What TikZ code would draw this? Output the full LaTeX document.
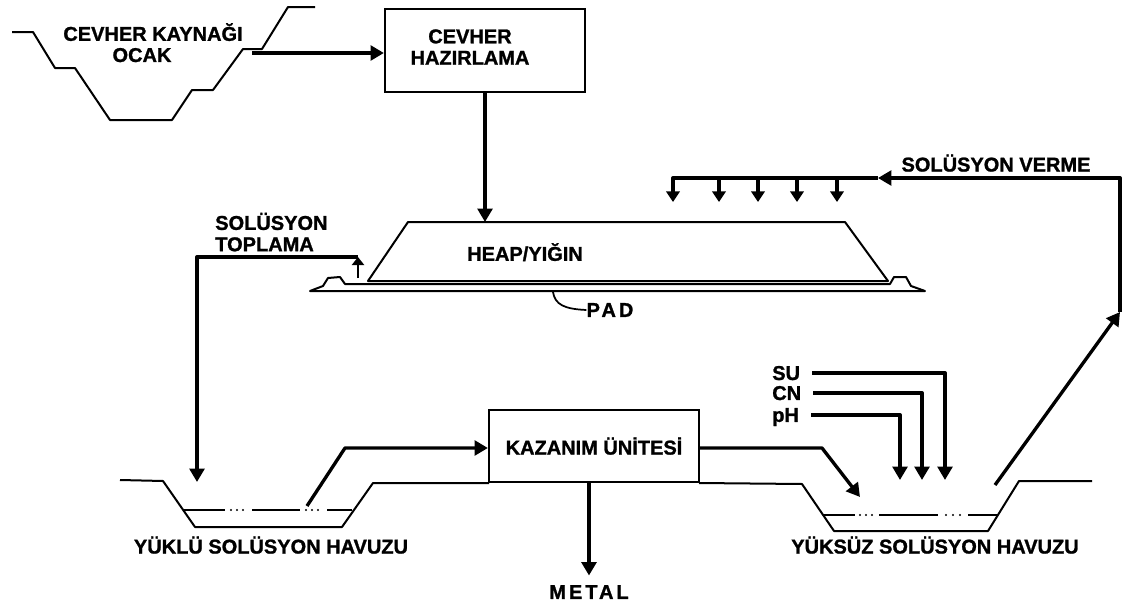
\documentclass[tikz,border=0pt]{standalone}
\usepackage{fontspec}
\setmainfont{Liberation Sans}[BoldFeatures={FakeBold=1.2}]
\newfontfamily\spacedfont{Liberation Sans}[LetterSpace=15,BoldFeatures={FakeBold=1.2}]
\usetikzlibrary{arrows.meta}
\begin{document}
\begin{tikzpicture}[x=0.75pt,y=-0.75pt,
  conn/.style={line width=2.5pt, line join=round},
  arr/.style={conn,-{Triangle[length=10pt,width=11pt]}},
  sarr/.style={conn,-{Triangle[length=8pt,width=10pt]}},
  uarr/.style={line width=2pt,-{Triangle[length=6pt,width=9pt]}},
  outl/.style={line width=1.5pt, line join=round},
  liq/.style={line width=1.3pt},
  lbl/.style={font=\bfseries\fontsize{15}{16}\selectfont, inner sep=0pt, text depth=0pt},
  slbl/.style={font=\spacedfont\bfseries\fontsize{15}{16}\selectfont, inner sep=0pt, text depth=0pt},
  box/.style={draw, line width=1.6pt, inner sep=0pt}
]
\useasboundingbox (0,0) rectangle (1125,603);
\fill[white] (0,0) rectangle (1125,603);

% --- ore source pit
\draw[outl] (12,32) -- (33,32) -- (55,68) -- (75,68) -- (110,120) -- (172,120) -- (192,90) -- (213,90) -- (243,49) -- (262,49) -- (288,7) -- (315,7);
\node[lbl] (ocak1) at (153,32) {CEVHER KAYNAĞI};
\node[lbl] (ocak2) at (142,55) {OCAK};
\coordinate (pitout) at (252,53);

% --- ore preparation
\node[box, minimum width=150pt, minimum height=62pt] (haz) at (485,50.5) {};
\node[lbl, align=center] (hazl) at (470,47) {CEVHER\\HAZIRLAMA};
\draw[arr] (pitout) -- (pitout -| haz.west);

% --- heap and pad
\draw[outl] (368,281) -- (408,222) -- (845,222) -- (888,281) -- cycle;
\draw[outl] (310,291) -- (323,286) -- (328,278) -- (340,277) -- (345,284) -- (890,284) -- (894,277) -- (906,277) -- (911,286) -- (925,291) -- cycle;
\node[lbl] (heap) at (525,252) {HEAP/YIĞIN};
\coordinate (heaptop) at (485,222);
\draw[arr] (haz.south) -- (heaptop);
\node[slbl] (pad) at (610,310) {PAD};
\coordinate (padpt) at (553,292);
\draw[line width=1.3pt] (padpt) .. controls (555,305) and (565,309) .. (pad.west);

% --- solution collection
\node[lbl, align=left, anchor=west] (topl) at (215,232) {SOLÜSYON\\TOPLAMA};
\coordinate (col) at (358,278);
\coordinate (colt) at (358,257);
\draw[uarr] (col) -- (colt);
\coordinate (lpin) at (197,482);
\draw[arr] (colt) -- (lpin |- colt) -- (lpin);

% --- solution feed (sprinklers)
\node[lbl] (verme) at (996,163) {SOLÜSYON VERME};
\coordinate (ret) at (1120,312);
\coordinate (spr) at (878,178);
\draw[arr] (ret) -- (ret |- spr) -- (spr);
\draw[sarr] (spr) -- (673,178) -- (673,202);
\foreach \sx in {719,758,797,837} \draw[sarr] (\sx,178) -- (\sx,202);

% --- loaded solution pond
\draw[outl] (120,480) -- (163,481) -- (195,527) -- (342,527) -- (373,483) -- (489,483);
\draw[liq] (183,510) -- (225,510) (252,510) -- (300,510) (327,510) -- (352,510);
\foreach \dx in {231,237,243,306,312,318} \fill (\dx,510) circle (0.9pt);
\node[lbl] (yuklu) at (271,545) {YÜKLÜ SOLÜSYON HAVUZU};

% --- recovery unit
\node[box, minimum width=157.5pt, minimum height=54pt, lbl, inner sep=0pt] (kaz) at (594,446) {KAZANIM ÜNİTESİ};
\coordinate (k1) at (345,448);
\draw[arr] (307,506) -- (k1) -- (k1 -| kaz.west);
\node[slbl] (metal) at (589,592) {METAL};
\draw[arr] (kaz.south -| metal.north) -- ([yshift=7pt]metal.north);

% --- barren solution pond
\draw[outl] (699,483) -- (802,484) -- (834,531) -- (988,531) -- (1019,481) -- (1092,481);
\draw[liq] (823,515) -- (855,515) (879,515) -- (938,515) (968,515) -- (997,515);
\foreach \dx in {860,866,872,946,953,960} \fill (\dx,515) circle (0.9pt);
\node[lbl] (yuksuz) at (935,545) {YÜKSÜZ SOLÜSYON HAVUZU};
\coordinate (k2) at (822,448);
\draw[arr] (k2 -| kaz.east) -- (k2) -- (860,497);

% --- reagents
\node[lbl, anchor=west] (su) at (772,373) {SU};
\node[lbl, anchor=west] (cn) at (772,393) {CN};
\node[lbl, anchor=west] (ph) at (772,415) {pH};
\draw[arr] ([xshift=9pt]su.east) -- (945,373) -- (945,480);
\draw[arr] ([xshift=9pt]cn.east |- cn) -- (922,393) -- (922,480);
\draw[arr] ([xshift=9pt]ph.east |- ph) -- (900,415) -- (900,480);

% --- return line
\draw[arr] (995,485) -- (ret);
\end{tikzpicture}
\end{document}
